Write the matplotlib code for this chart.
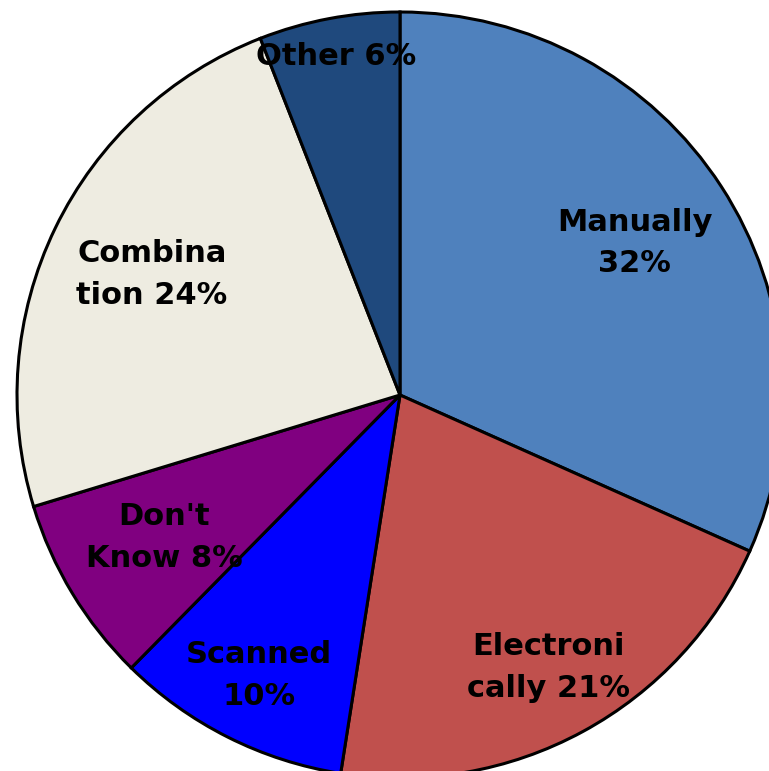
import numpy as np
import matplotlib
matplotlib.use('Agg')
import matplotlib.pyplot as plt

# slice data, clockwise from 12 o'clock
labels = ['Manually\n32%', 'Electroni\ncally 21%', 'Scanned\n10%',
          "Don't\nKnow 8%", 'Combina\ntion 24%', 'Other 6%']
shares = [32, 21, 10, 8, 24, 6]
colors = ['#4F81BD', '#C0504D', '#0000FF', '#800080', '#EEECE1', '#1F497D']

# how far out (fraction of radius) each label sits
label_r = [0.73, 0.81, 0.82, 0.72, 0.72, 0.90]

W, H = 769, 771
CX, CY, R = 400, H - 395, 383

fig = plt.figure(figsize=(W / 100, H / 100), dpi=100)
ax = fig.add_axes([0, 0, 1, 1])
wedges, _ = ax.pie(shares, colors=colors, startangle=90, counterclock=False,
                   center=(CX, CY), radius=R, frame=True,
                   wedgeprops=dict(edgecolor='black', linewidth=2.2))
ax.set_xlim(0, W)
ax.set_ylim(0, H)
ax.set_aspect('equal')
ax.axis('off')

for w, lab, fr in zip(wedges, labels, label_r):
    mid = np.deg2rad((w.theta1 + w.theta2) / 2)
    x = CX + fr * R * np.cos(mid)
    y = CY + fr * R * np.sin(mid)
    ax.text(x, y, lab, ha='center', va='center', fontsize=22,
            fontweight='bold', family='DejaVu Sans', linespacing=1.55,
            color='black')

plt.savefig('out.png', dpi=100)
